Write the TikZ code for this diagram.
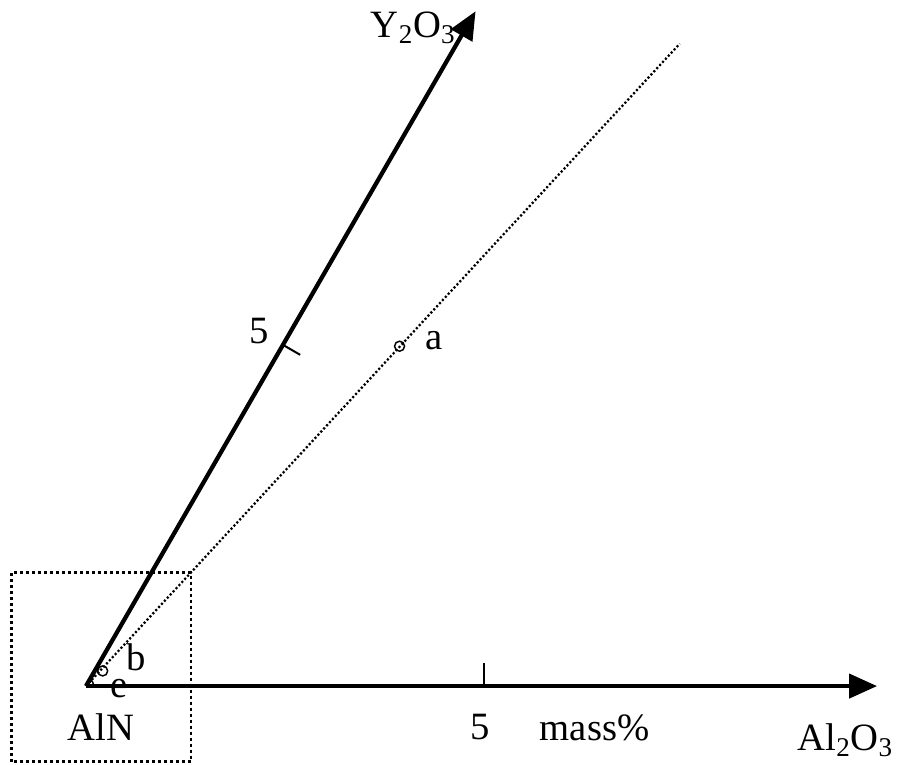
\documentclass[tikz,border=0pt]{standalone}
\usepackage{fontspec}
\setmainfont{Liberation Serif}
\usetikzlibrary{arrows.meta}

\begin{document}
\begin{tikzpicture}[x=59.7pt,y=59.7pt,
  lbl/.style={font=\fontsize{29}{34}\selectfont, inner sep=0pt},
  axis/.style={line width=3.2pt, -{Triangle[length=21pt,width=18pt]}},
  pt/.style={draw, line width=1.1pt, circle, inner sep=0pt, minimum size=7.5pt}]
  \useasboundingbox (-1.08,-0.99) rectangle (10.19,8.62);
  \coordinate (O) at (0,0);
  \coordinate (Xend) at (9.94,0);
  \coordinate (Yend) at (60:9.79);
  \coordinate (Dend) at (7.46,8.07);
  \coordinate (Xt) at (5,0);
  \coordinate (Yt) at (60:4.95);
  \draw[axis] (O) -- (Xend);
  \draw[axis] (O) -- (Yend);
  \draw[line width=1.7pt, dash pattern=on 1.6pt off 1.6pt] (O) -- (Dend);
  \draw[line width=1.5pt] (Xt) -- ++(0,0.29);
  \draw[line width=1.5pt] (Yt) -- ++(-30:0.25);
  \draw[line width=2.2pt, dash pattern=on 2.2pt off 2.3pt] (-0.93,-0.95) rectangle (1.32,1.43);
  % points
  \node[pt] (a) at (3.94,4.27) {};
  \node[pt] (b) at (0.21,0.19) {};
  \node[pt, minimum size=5pt] (e) at (0.05,0.03) {};
  \node[lbl] (la) at (4.38,4.34) {a};
  \node[lbl] (lb) at (0.63,0.36) {b};
  \node[lbl] (le) at (0.42,-0.03) {e};
  % axis labels
  \node[lbl] (AlN) at (0.19,-0.52) {AlN};
  \node[lbl] (x5) at (4.95,-0.52) {5};
  \node[lbl] (mass) at (6.39,-0.52) {mass\%};
  \node[lbl] (Al) at (9.54,-0.68) {Al\textsubscript{2}O\textsubscript{3}};
  \node[lbl] (Y) at (4.11,8.27) {Y\textsubscript{2}O\textsubscript{3}};
  \node[lbl] (y5) at (2.17,4.46) {5};
\end{tikzpicture}
\end{document}
